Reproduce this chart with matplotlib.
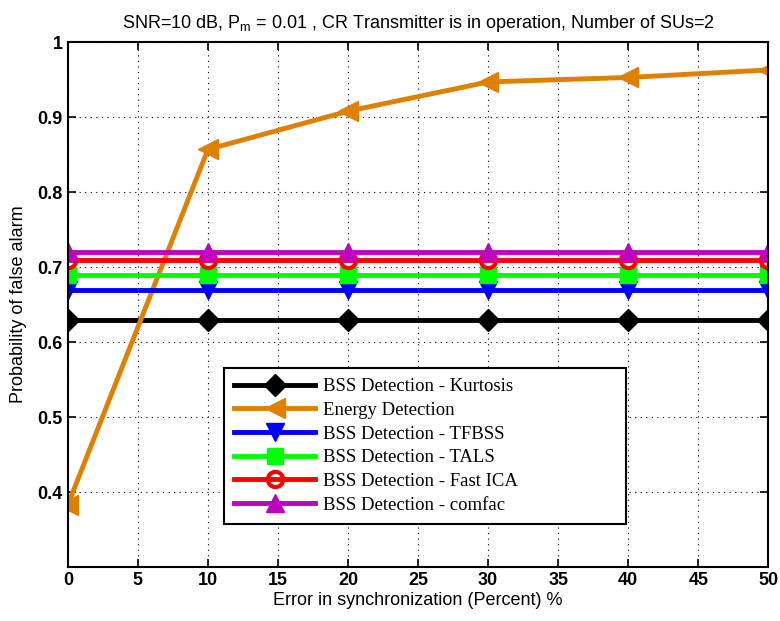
import matplotlib
matplotlib.use('Agg')
import matplotlib.pyplot as plt

x = [0, 10, 20, 30, 40, 50]
kurtosis = [0.63, 0.63, 0.63, 0.63, 0.63, 0.63]
energy = [0.383, 0.857, 0.908, 0.947, 0.953, 0.963]
tfbss = [0.67, 0.67, 0.67, 0.67, 0.67, 0.67]
tals = [0.69, 0.69, 0.69, 0.69, 0.69, 0.69]
fastica = [0.71, 0.71, 0.71, 0.71, 0.71, 0.71]
comfac = [0.72, 0.72, 0.72, 0.72, 0.72, 0.72]

plt.rcParams['font.family'] = ['Liberation Sans', 'DejaVu Sans']

fig = plt.figure(figsize=(7.8, 6.21), dpi=100)
ax = fig.add_axes([0.087, 0.087, 0.898, 0.845])

lw = 3.5
ms = 11
ax.plot(x, kurtosis, color='black', lw=lw, marker='D', ms=ms, label='BSS Detection - Kurtosis')
ax.plot(x, energy, color='#E08000', lw=lw, marker='<', ms=ms + 3, label='Energy Detection')
ax.plot(x, tfbss, color='blue', lw=lw, marker='v', ms=ms + 2, label='BSS Detection - TFBSS')
ax.plot(x, tals, color='#00FF00', lw=lw, marker='s', ms=ms, label='BSS Detection - TALS')
ax.plot(x, fastica, color='red', lw=lw, marker='o', ms=ms, mfc='none', mew=3, label='BSS Detection - Fast ICA')
ax.plot(x, comfac, color='#BF00BF', lw=lw, marker='^', ms=ms + 2, label='BSS Detection - comfac')

ax.set_xlim(0, 50)
ax.set_ylim(0.3, 1.0)
ax.set_xticks(range(0, 51, 5))
ax.set_yticks([0.4, 0.5, 0.6, 0.7, 0.8, 0.9, 1.0])
ax.set_yticklabels(['0.4', '0.5', '0.6', '0.7', '0.8', '0.9', '1'])
ax.tick_params(direction='in', labelsize=13, top=True, right=True, width=1.2, length=6)
for lab in ax.get_xticklabels() + ax.get_yticklabels():
    lab.set_fontweight('bold')
ax.grid(True, linestyle=(0, (1, 4)), color='black', linewidth=0.8)
for s in ax.spines.values():
    s.set_linewidth(1.5)

ax.set_xlabel('Error in synchronization (Percent) %', fontsize=13, labelpad=2)
ax.set_ylabel('Probability of false alarm', fontsize=13, labelpad=8)
ax.set_title('SNR=10 dB, P$_\\mathregular{m}$ = 0.01 , CR Transmitter is in operation, Number of SUs=2',
             fontsize=13, pad=10)

# legend box sits between x~11 and x=40, just above the bottom axis
leg = ax.legend(loc='lower left', bbox_to_anchor=(0.223, 0.082, 0.574, 0.3),
                mode='expand', borderaxespad=0,
                prop={'family': 'Liberation Serif', 'size': 13.5},
                fancybox=False, framealpha=1, edgecolor='black',
                handlelength=4.3, handletextpad=0.45, borderpad=0.55,
                labelspacing=0.35)
leg.get_frame().set_linewidth(1.5)

fig.savefig('out.png', dpi=100)
